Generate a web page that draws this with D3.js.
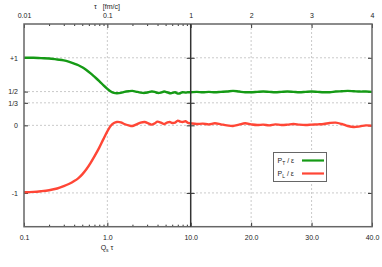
<!DOCTYPE html>
<html>
<head>
<meta charset="utf-8">
<script src="https://cdn.jsdelivr.net/npm/d3@7"></script>
<style>
  body { margin: 0; background: #fff; }
  svg { display: block; font-family: "Liberation Sans", Arial, sans-serif; }
  .tick text { fill: #222; font-size: 7px; }
</style>
</head>
<body>
<svg id="chart" width="382" height="267"></svg>
<script>
// Q_s tau values, P_T/eps and P_L/eps
const qsTau = [0.10, 0.13, 0.16, 0.20, 0.25, 0.30, 0.35, 0.40, 0.45, 0.50, 0.56, 0.63, 0.70, 0.80, 0.90,
    1.00, 1.10, 1.20, 1.30, 1.45, 1.60, 1.80, 2.00, 2.20, 2.50, 2.80, 3.10, 3.40, 3.70, 4.00,
    4.40, 4.80, 5.20, 5.60, 6.00, 6.50, 7.00, 7.50, 8.00, 8.70, 9.30, 10.0,
    11, 12, 13, 14, 15, 16, 17, 18, 19, 20, 21, 22, 23, 24, 25, 26, 27, 28, 29, 30,
    31, 32, 33, 34, 35, 36, 37, 38, 39, 40];
const pT = [1.00, 1.00, 0.995, 0.99, 0.975, 0.962, 0.94, 0.915, 0.89, 0.86, 0.82, 0.77, 0.72, 0.655, 0.59,
    0.54, 0.50, 0.48, 0.475, 0.48, 0.495, 0.505, 0.51, 0.50, 0.485, 0.48, 0.49, 0.50, 0.495, 0.48,
    0.485, 0.50, 0.49, 0.475, 0.48, 0.49, 0.47, 0.475, 0.49, 0.485, 0.49, 0.49,
    0.495, 0.49, 0.495, 0.49, 0.495, 0.50, 0.51, 0.50, 0.49, 0.49, 0.495, 0.50, 0.495, 0.49, 0.495,
    0.50, 0.495, 0.49, 0.495, 0.50, 0.495, 0.49, 0.49, 0.50, 0.505, 0.51, 0.505, 0.50, 0.50, 0.495];
const pL = [-0.99, -0.985, -0.975, -0.96, -0.935, -0.90, -0.865, -0.825, -0.78, -0.725, -0.65, -0.555, -0.46, -0.33, -0.20,
    -0.09, -0.005, 0.035, 0.05, 0.045, 0.02, 0.00, -0.01, 0.01, 0.04, 0.05, 0.03, 0.01, 0.03, 0.055,
    0.04, 0.02, 0.04, 0.05, 0.035, 0.04, 0.07, 0.055, 0.05, 0.06, 0.035, 0.03,
    0.02, 0.025, 0.015, 0.03, 0.015, 0.0, -0.01, 0.01, 0.03, 0.015, 0.005, 0.01, 0.0, 0.015, 0.005,
    0.01, 0.02, 0.01, 0.005, 0.01, 0.015, 0.02, 0.035, 0.04, 0.02, -0.01, -0.025, -0.015, 0.0, -0.005];

const yTicks = [1, 0.5, 1 / 3, 0, -1];
const yTickLabels = ["+1", "1/2", "1/3", "0", "-1"];
const logTicks = [0.1, 1, 10];
const linTicks = [10, 20, 30, 40];
const topLogTicks = [0.01, 0.1, 1];
const topLinTicks = [1, 2, 3, 4];

const plotLeft = 24, plotMid = 190.7, plotRight = 372, plotTop = 24, plotBottom = 226.7;

const svg = d3.select("#chart");

const xl = d3.scaleLog().domain([0.1, 10]).range([plotLeft, plotMid]);
const xr = d3.scaleLinear().domain([10, 40]).range([plotMid, plotRight]);
const xlTop = d3.scaleLog().domain([0.01, 1]).range([plotLeft, plotMid]);
const xrTop = d3.scaleLinear().domain([1, 4]).range([plotMid, plotRight]);
const y = d3.scaleLinear().domain([-1.5, 1.5]).range([plotBottom, plotTop]);

const xAt = q => q <= 10 ? xl(q) : xr(q);

// grid
const grid = svg.append("g").attr("stroke", "#bdbdbd").attr("stroke-width", 0.8)
    .attr("stroke-dasharray", "2,2");
yTicks.forEach(v => {
    grid.append("line").attr("x1", plotLeft).attr("x2", plotRight).attr("y1", y(v)).attr("y2", y(v));
});
[xl(1), xr(20), xr(30)].forEach(px => {
    grid.append("line").attr("x1", px).attr("x2", px).attr("y1", plotTop).attr("y2", plotBottom);
});

// minor ticks (log panel)
const minorBottom = [];
const minorTop = [];
[0.1, 1].forEach(dec => {
    for (let k = 2; k <= 9; k++) minorBottom.push(dec * k);
});
[0.01, 0.1].forEach(dec => {
    for (let k = 2; k <= 9; k++) minorTop.push(dec * k);
});

function styleAxis(g) {
    g.select(".domain").remove();
    g.selectAll(".tick line").attr("stroke", "#333").attr("stroke-width", 1);
}

svg.append("g").attr("transform", `translate(0,${plotBottom})`)
    .call(d3.axisBottom(xl).tickValues(minorBottom).tickFormat("").tickSizeInner(-2).tickSizeOuter(0))
    .call(styleAxis);
svg.append("g").attr("transform", `translate(0,${plotTop})`)
    .call(d3.axisTop(xlTop).tickValues(minorTop).tickFormat("").tickSizeInner(-2).tickSizeOuter(0))
    .call(styleAxis);

// major ticks with labels
svg.append("g").attr("transform", `translate(0,${plotBottom})`)
    .call(d3.axisBottom(xl).tickValues(logTicks).tickFormat(d3.format(".1f")).tickSizeInner(-4).tickSizeOuter(0).tickPadding(8))
    .call(styleAxis);
svg.append("g").attr("transform", `translate(0,${plotBottom})`)
    .call(d3.axisBottom(xr).tickValues(linTicks.slice(1)).tickFormat(d3.format(".1f")).tickSizeInner(-4).tickSizeOuter(0).tickPadding(8))
    .call(styleAxis);
svg.append("g").attr("transform", `translate(0,${plotTop})`)
    .call(d3.axisTop(xlTop).tickValues(topLogTicks).tickFormat(d => d === 1 ? "1" : String(d)).tickSizeInner(-4).tickSizeOuter(0).tickPadding(6))
    .call(styleAxis);
svg.append("g").attr("transform", `translate(0,${plotTop})`)
    .call(d3.axisTop(xrTop).tickValues(topLinTicks.slice(1)).tickFormat(d3.format("d")).tickSizeInner(-4).tickSizeOuter(0).tickPadding(6))
    .call(styleAxis);

// y ticks: left axis, both sides of divider, right edge
svg.append("g").attr("transform", `translate(${plotLeft},0)`)
    .call(d3.axisLeft(y).tickValues(yTicks).tickFormat((d, i) => yTickLabels[i]).tickSizeInner(-4).tickSizeOuter(0).tickPadding(6))
    .call(styleAxis);
svg.append("g").attr("transform", `translate(${plotMid},0)`)
    .call(d3.axisLeft(y).tickValues(yTicks).tickFormat("").tickSizeInner(4).tickSizeOuter(0))
    .call(styleAxis);
svg.append("g").attr("transform", `translate(${plotMid},0)`)
    .call(d3.axisRight(y).tickValues(yTicks).tickFormat("").tickSizeInner(4).tickSizeOuter(0))
    .call(styleAxis);
svg.append("g").attr("transform", `translate(${plotRight},0)`)
    .call(d3.axisRight(y).tickValues(yTicks).tickFormat("").tickSizeInner(-4).tickSizeOuter(0))
    .call(styleAxis);

// curves
const pts = qsTau.map((q, i) => ({ q: q, t: pT[i], l: pL[i] }));
const lineT = d3.line().x(d => xAt(d.q)).y(d => y(d.t)).curve(d3.curveCatmullRom.alpha(0.5));
const lineL = d3.line().x(d => xAt(d.q)).y(d => y(d.l)).curve(d3.curveCatmullRom.alpha(0.5));

svg.append("path").datum(pts).attr("d", lineT)
    .attr("fill", "none").attr("stroke", "#159a15").attr("stroke-width", 2.4);
svg.append("path").datum(pts).attr("d", lineL)
    .attr("fill", "none").attr("stroke", "#ff4636").attr("stroke-width", 2.4);

// frame and divider
svg.append("rect").attr("x", plotLeft).attr("y", plotTop).attr("width", plotRight - plotLeft).attr("height", plotBottom - plotTop)
    .attr("fill", "none").attr("stroke", "#666").attr("stroke-width", 1.5);
svg.append("line").attr("x1", plotMid).attr("x2", plotMid).attr("y1", plotTop).attr("y2", plotBottom)
    .attr("stroke", "#333").attr("stroke-width", 1.5);

// axis titles
const title = svg.append("text").attr("x", 107).attr("y", 8.5).attr("text-anchor", "middle")
    .attr("font-size", 7).attr("fill", "#222");
title.append("tspan").text("τ");
title.append("tspan").attr("dx", 6).text("[fm/c]");

const xTitle = svg.append("text").attr("x", 107).attr("y", 250).attr("text-anchor", "middle")
    .attr("font-size", 7).attr("fill", "#222");
xTitle.append("tspan").text("Q");
xTitle.append("tspan").attr("font-size", 5).attr("dy", 1.8).text("s");
xTitle.append("tspan").attr("dy", -1.8).text(" τ");

// legend
const lg = svg.append("g");
lg.append("rect").attr("x", 273.5).attr("y", 152.5).attr("width", 53).attr("height", 29)
    .attr("fill", "#fff").attr("stroke", "#666").attr("stroke-width", 1);
const legendItems = [
    { sub: "T", color: "#159a15", yy: 160.5 },
    { sub: "L", color: "#ff4636", yy: 173.5 }
];
legendItems.forEach(it => {
    const t = lg.append("text").attr("x", 277.5).attr("y", it.yy + 2.5).attr("font-size", 7).attr("fill", "#222");
    t.append("tspan").text("P");
    t.append("tspan").attr("font-size", 5).attr("dy", 1.8).text(it.sub);
    t.append("tspan").attr("dy", -1.8).text(" / ε");
    lg.append("line").attr("x1", 302).attr("x2", 324).attr("y1", it.yy).attr("y2", it.yy)
        .attr("stroke", it.color).attr("stroke-width", 2.2);
});
</script>
</body>
</html>
